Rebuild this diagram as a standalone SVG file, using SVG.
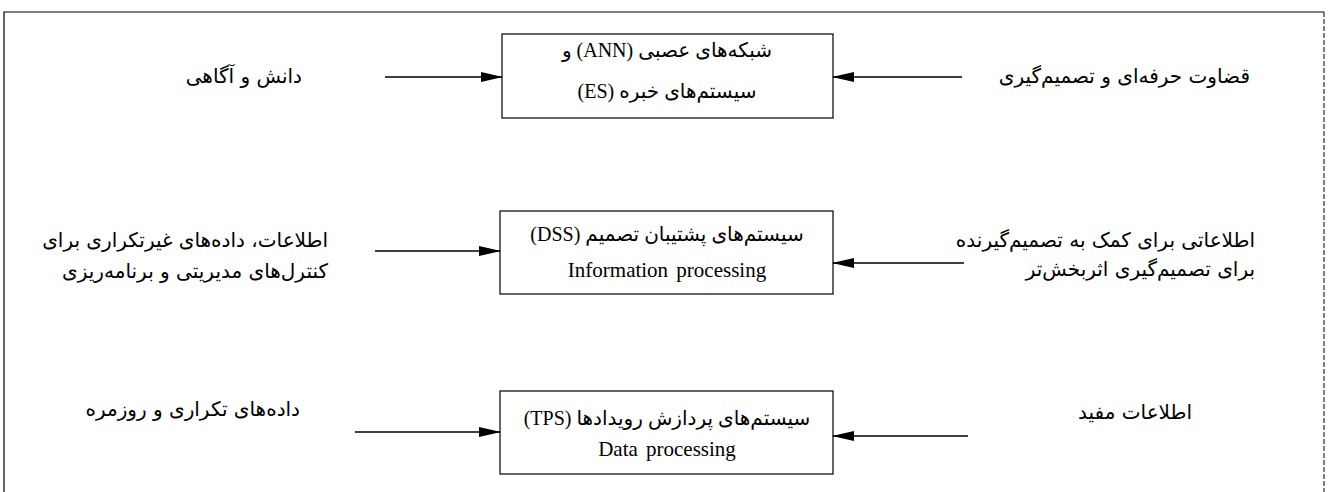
<svg xmlns="http://www.w3.org/2000/svg" width="1329" height="492" viewBox="0 0 1329 492">
  <style>
    .frame { fill: none; stroke: #000; stroke-width: 1.2; }
    .frame-dot { fill: none; stroke: #000; stroke-width: 1; stroke-dasharray: 5 2; }
    .box { fill: #fff; stroke: #000; stroke-width: 1.2; }
    .fa { font-family: "DejaVu Sans", sans-serif; font-size: 20px; fill: #000; direction: rtl; unicode-bidi: embed; }
    .bx { font-family: "Liberation Serif", "DejaVu Sans", serif; font-size: 20px; fill: #000; direction: rtl; unicode-bidi: embed; text-anchor: middle; }
    .en { font-family: "Liberation Serif", serif; font-size: 21px; fill: #000; text-anchor: middle; word-spacing: 3px; }
    .conn { stroke: #000; stroke-width: 1.5; fill: none; marker-end: url(#head); }
  </style>
  <defs>
    <marker id="head" markerUnits="userSpaceOnUse" markerWidth="22" markerHeight="10" refX="21" refY="5" orient="auto">
      <path d="M0,0 L22,5 L0,10 Z" fill="#000"/>
    </marker>
  </defs>

  <rect width="1329" height="492" fill="#fff"/>

  <!-- outer frame, open at the bottom -->
  <path class="frame" d="M4,492 V12 H1324"/>
  <path class="frame-dot" d="M1324,12 V492"/>

  <!-- knowledge level -->
  <g id="node-ann-es">
    <rect class="box" x="502" y="34" width="331" height="84"/>
    <text class="bx" x="667" y="57">شبکه‌های عصبی (ANN) و</text>
    <text class="bx" x="667" y="98">سیستم‌های خبره (ES)</text>
  </g>
  <g id="label-knowledge">
    <text class="fa" x="302" y="83" text-anchor="start">دانش و آگاهی</text>
  </g>
  <g id="label-judgement">
    <text class="fa" x="1250" y="83" text-anchor="start">قضاوت حرفه‌ای و تصمیم‌گیری</text>
  </g>

  <!-- information level -->
  <g id="node-dss">
    <rect class="box" x="500" y="211" width="333" height="83"/>
    <text class="bx" x="667" y="241">سیستم‌های پشتیبان تصمیم (DSS)</text>
    <text class="en" x="667" y="277">Information processing</text>
  </g>
  <g id="label-nonroutine">
    <text class="fa" x="328" y="247" text-anchor="start">اطلاعات، داده‌های غیرتکراری برای</text>
    <text class="fa" x="328" y="278" text-anchor="start">کنترل‌های مدیریتی و برنامه‌ریزی</text>
  </g>
  <g id="label-decision-info">
    <text class="fa" x="1255" y="247" text-anchor="start">اطلاعاتی برای کمک به تصمیم‌گیرنده</text>
    <text class="fa" x="1255" y="276" text-anchor="start">برای تصمیم‌گیری اثربخش‌تر</text>
  </g>

  <!-- transaction level -->
  <g id="node-tps">
    <rect class="box" x="500" y="391" width="333" height="83"/>
    <text class="bx" x="667" y="425">سیستم‌های پردازش رویدادها (TPS)</text>
    <text class="en" x="667" y="456">Data processing</text>
  </g>
  <g id="label-routine">
    <text class="fa" x="300" y="416" text-anchor="start">داده‌های تکراری و روزمره</text>
  </g>
  <g id="label-useful">
    <text class="fa" x="1192" y="419" text-anchor="start">اطلاعات مفید</text>
  </g>

  <!-- connectors -->
  <g id="connectors">
    <line class="conn" x1="385" y1="77" x2="502" y2="77"/>
    <line class="conn" x1="962" y1="77" x2="833" y2="77"/>
    <line class="conn" x1="375" y1="251" x2="500" y2="251"/>
    <line class="conn" x1="964" y1="263" x2="833" y2="263"/>
    <line class="conn" x1="355" y1="432" x2="500" y2="432"/>
    <line class="conn" x1="968" y1="436" x2="833" y2="436"/>
  </g>
</svg>
